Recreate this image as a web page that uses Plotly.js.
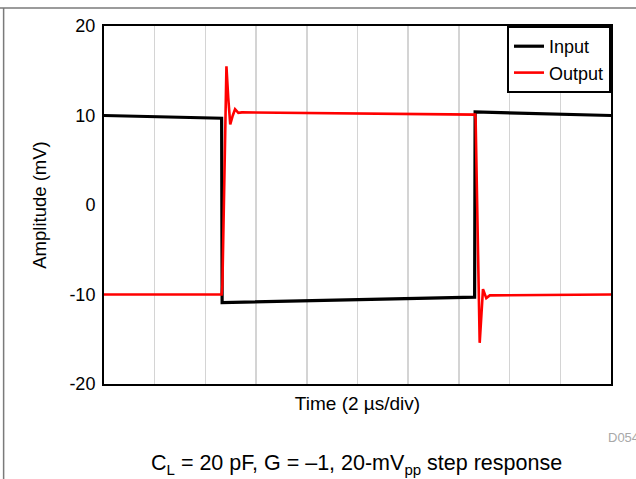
<!DOCTYPE html>
<html>
<head>
<meta charset="utf-8">
<script src="https://cdn.plot.ly/plotly-3.0.1.min.js"></script>
<style>
  html, body { margin: 0; padding: 0; background: #fff; }
  #chart { width: 636px; height: 479px; }
</style>
</head>
<body>
<div id="chart"></div>
<script>
// Time in divisions (2 µs/div), amplitude in mV
const inputTime = [0, 2.32, 2.33, 7.31, 7.32, 10];
const inputAmp  = [10.0, 9.7, -10.9, -10.3, 10.4, 10.0];

const outputTime = [0, 2.32, 2.335, 2.415, 2.45, 2.49, 2.54, 2.585, 2.65, 2.72, 7.32, 7.33, 7.41, 7.44, 7.475, 7.54, 7.61, 10];
const outputAmp  = [-10.0, -10.0, -9.0, 15.5, 12.0, 9.0, 10.0, 10.7, 10.3, 10.35, 10.1, 9.5, -15.4, -12.0, -9.4, -10.4, -10.1, -10.0];

const yTicks = [-20, -10, 0, 10, 20];
const seriesNames = ['Input', 'Output'];

const FONT = 'Arial, "Liberation Sans", sans-serif';

const traces = [
  { x: inputTime, y: inputAmp, name: seriesNames[0], mode: 'lines',
    line: { color: '#000000', width: 3.2 } },
  { x: outputTime, y: outputAmp, name: seriesNames[1], mode: 'lines',
    line: { color: '#ff0000', width: 2.6 } }
];

const layout = {
  width: 636, height: 479,
  margin: { l: 104, r: 25, t: 26, b: 95 },
  paper_bgcolor: '#ffffff', plot_bgcolor: '#ffffff',
  font: { family: FONT, size: 18, color: '#000' },
  showlegend: true,
  legend: {
    x: 1, xanchor: 'right', y: 1, yanchor: 'top',
    bgcolor: '#ffffff', bordercolor: '#000000', borderwidth: 2,
    font: { family: FONT, size: 18, color: '#000' },
    tracegroupgap: 0
  },
  xaxis: {
    range: [0, 10], dtick: 1, tick0: 0,
    showticklabels: false, ticks: '',
    showgrid: true, gridcolor: '#d4d4d4', gridwidth: 1.5,
    zeroline: false,
    showline: true, linecolor: '#000', linewidth: 2, mirror: true,
    title: { text: 'Time (2 µs/div)', font: { family: FONT, size: 19 }, standoff: 12 },
    automargin: false
  },
  yaxis: {
    range: [-20, 20], tickvals: yTicks, ticktext: yTicks.map(String),
    ticks: '', ticklabelstandoff: 3,
    showgrid: false, zeroline: false,
    showline: true, linecolor: '#000', linewidth: 2, mirror: true,
    tickfont: { family: FONT, size: 18 },
    title: { text: 'Amplitude (mV)', font: { family: FONT, size: 18.5 }, standoff: 18 },
    automargin: false
  },
  shapes: [
    { type: 'line', xref: 'paper', yref: 'paper', x0: -0.25, x1: 1.1, y0: 1.0503, y1: 1.0503,
      line: { color: '#7a7a7a', width: 1.5 } },
    { type: 'line', xref: 'paper', yref: 'paper', x0: -0.198, x1: -0.198, y0: 1.0503, y1: -0.3,
      line: { color: '#7a7a7a', width: 1.5 } }
  ],
  annotations: [
    { text: 'C<sub>L</sub> = 20 pF, G = –1, 20-mV<sub>pp</sub> step response',
      xref: 'paper', yref: 'paper', x: 0.499, y: -0.226, xanchor: 'center', yanchor: 'middle',
      showarrow: false, font: { family: FONT, size: 21.5, color: '#000' } },
    { text: 'D054', xref: 'paper', yref: 'paper', x: (606 - 104) / 507, y: (384 - 437) / 358,
      xanchor: 'left', yanchor: 'middle', showarrow: false,
      font: { family: FONT, size: 13, color: '#a8a8a8' } }
  ]
};

Plotly.newPlot('chart', traces, layout, { displayModeBar: false, staticPlot: true });
</script>
</body>
</html>
